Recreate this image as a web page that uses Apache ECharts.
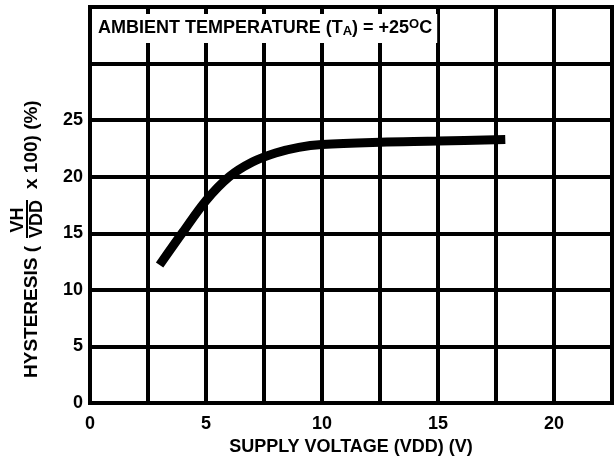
<!DOCTYPE html>
<html>
<head>
<meta charset="utf-8">
<script src="https://cdn.jsdelivr.net/npm/echarts@6/dist/echarts.min.js"></script>
<style>
  html, body { margin: 0; padding: 0; background: #fff; }
  #main { width: 615px; height: 461px; }
</style>
</head>
<body>
<div id="main"></div>
<script>
// supply voltage (V) vs hysteresis (%)
var voltage = [3.0, 4.0, 5.0, 6.0, 7.0, 8.0, 9.0, 10.0, 12.5, 15.0, 17.9];
var hysteresis = [12.2, 15.1, 17.9, 20.0, 21.3, 22.1, 22.6, 22.85, 23.05, 23.15, 23.3];

var xTicks = [0, 5, 10, 15, 20];
var yTicks = [0, 5, 10, 15, 20, 25];

var FONT = '"Liberation Sans", Arial, sans-serif';

var chartDom = document.getElementById('main');
var myChart = echarts.init(chartDom, null, { renderer: 'canvas' });

var points = voltage.map(function (v, i) { return [v, hysteresis[i]]; });

var option = {
  backgroundColor: '#fff',
  animation: false,
  title: {
    left: 93,
    top: 14,
    padding: [4, 5, 4, 5],
    backgroundColor: '#fff',
    text: '{n|AMBIENT TEMPERATURE (T}{sub|A}{n|) = +25}{sup|O}{n|C}',
    textStyle: {
      rich: {
        n: { fontFamily: FONT, fontWeight: 'bold', fontSize: 18, color: '#000', lineHeight: 20, verticalAlign: 'middle' },
        sub: { fontFamily: FONT, fontWeight: 'bold', fontSize: 13, color: '#000', lineHeight: 20, verticalAlign: 'bottom', padding: [6, 0, 0, 0] },
        sup: { fontFamily: FONT, fontWeight: 'bold', fontSize: 13, color: '#000', lineHeight: 20, verticalAlign: 'top', padding: [0, 0, 8, 0] }
      }
    }
  },
  grid: {
    left: 90,
    right: 3,
    top: 7,
    bottom: 48,
    show: true,
    borderColor: '#000',
    borderWidth: 4
  },
  xAxis: {
    type: 'value',
    min: 0,
    max: 22.5,
    interval: 2.5,
    name: 'SUPPLY VOLTAGE (VDD) (V)',
    nameLocation: 'middle',
    nameGap: 34,
    nameTextStyle: { fontFamily: FONT, fontWeight: 'bold', fontSize: 18, color: '#000' },
    axisLine: { show: true, lineStyle: { color: '#000', width: 4 } },
    axisTick: { show: false },
    splitLine: { show: true, lineStyle: { color: '#000', width: 4 } },
    axisLabel: {
      margin: 12,
      fontFamily: FONT, fontWeight: 'bold', fontSize: 18, color: '#000',
      formatter: function (v) { return xTicks.indexOf(v) >= 0 ? String(v) : ''; }
    }
  },
  yAxis: {
    type: 'value',
    min: 0,
    max: 35,
    interval: 5,
    axisLine: { show: true, lineStyle: { color: '#000', width: 4 } },
    axisTick: { show: false },
    splitLine: { show: true, lineStyle: { color: '#000', width: 4 } },
    axisLabel: {
      margin: 7,
      fontFamily: FONT, fontWeight: 'bold', fontSize: 18, color: '#000',
      formatter: function (v) { return yTicks.indexOf(v) >= 0 ? String(v) : ''; }
    }
  },
  graphic: [
    // y axis title, rotated, with the VH / VDD fraction
    {
      type: 'text', x: 32, y: 378, rotation: Math.PI / 2,
      style: { text: 'HYSTERESIS (', fill: '#000', font: 'bold 19px ' + FONT, align: 'left', verticalAlign: 'middle' }
    },
    {
      type: 'text', x: 18, y: 220, rotation: Math.PI / 2,
      style: { text: 'VH', fill: '#000', font: 'bold 18px ' + FONT, align: 'center', verticalAlign: 'middle' }
    },
    {
      type: 'line', shape: { x1: 27, y1: 238, x2: 27, y2: 200 },
      style: { stroke: '#000', lineWidth: 2 }
    },
    {
      type: 'text', x: 37, y: 219, rotation: Math.PI / 2,
      style: { text: 'VDD', fill: '#000', font: 'bold 18px ' + FONT, align: 'center', verticalAlign: 'middle' }
    },
    {
      type: 'text', x: 32, y: 189, rotation: Math.PI / 2,
      style: { text: 'x 100) (%)', fill: '#000', font: 'bold 19px ' + FONT, align: 'left', verticalAlign: 'middle' }
    }
  ],
  series: [
    {
      type: 'line',
      data: points,
      smooth: 0.35,
      showSymbol: false,
      lineStyle: { color: '#000', width: 9, cap: 'butt' },
      z: 3
    }
  ]
};

myChart.setOption(option);
</script>
</body>
</html>
